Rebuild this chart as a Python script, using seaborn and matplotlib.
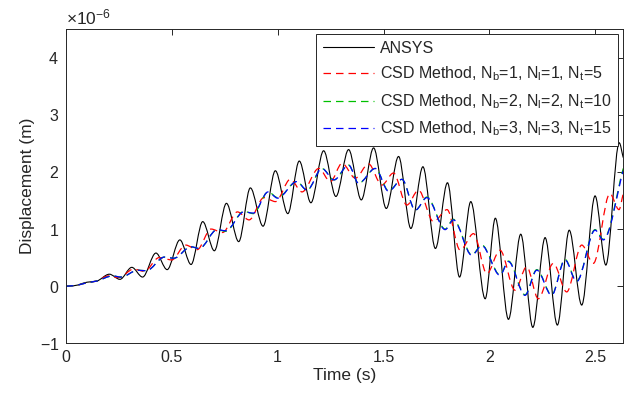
import numpy as np
import pandas as pd
import matplotlib
matplotlib.use("Agg")
import matplotlib.pyplot as plt
from matplotlib.path import Path
from matplotlib.patches import PathPatch
import seaborn as sns

# ---- data (displacement in units of 1e-6 m; local extrema) ----
ansys_t = [0.0, 0.04, 0.10, 0.145, 0.205, 0.255, 0.311, 0.362, 0.425, 0.478, 0.538, 0.591,
           0.646, 0.701, 0.758, 0.816, 0.871, 0.931, 0.989, 1.048, 1.102, 1.157, 1.217,
           1.275, 1.335, 1.395, 1.453, 1.513, 1.571, 1.629, 1.686, 1.745, 1.802, 1.859,
           1.912, 1.980, 2.028, 2.090, 2.148, 2.205, 2.263, 2.321, 2.377, 2.436, 2.499,
           2.550, 2.613, 2.632]
ansys_v = [0.0, 0.01, 0.07, 0.09, 0.21, 0.12, 0.33, 0.16, 0.58, 0.29, 0.81, 0.38,
           1.13, 0.62, 1.45, 0.78, 1.72, 1.05, 2.02, 1.27, 2.19, 1.46, 2.37,
           1.57, 2.39, 1.51, 2.42, 1.36, 2.27, 1.01, 2.09, 0.66, 1.81, 0.16,
           1.48, -0.22, 1.19, -0.58, 0.91, -0.72, 0.85, -0.68, 0.98, -0.33, 1.58,
           0.37, 2.51, 2.25]

csd1_t = [0.0, 0.04, 0.10, 0.145, 0.20, 0.25, 0.32, 0.37, 0.44, 0.50, 0.565, 0.62,
          0.685, 0.74, 0.81, 0.865, 0.935, 0.99, 1.06, 1.115, 1.194, 1.249, 1.304,
          1.367, 1.429, 1.492, 1.547, 1.610, 1.665, 1.736, 1.800, 1.862, 1.925, 1.988,
          2.050, 2.121, 2.176, 2.231, 2.302, 2.365, 2.436, 2.491, 2.569, 2.612, 2.632]
csd1_v = [0.0, 0.01, 0.06, 0.09, 0.18, 0.15, 0.30, 0.26, 0.50, 0.46, 0.72, 0.64,
          1.00, 0.94, 1.30, 1.16, 1.55, 1.48, 1.87, 1.65, 2.06, 1.83, 2.15,
          1.89, 2.14, 1.77, 1.98, 1.42, 1.68, 1.13, 1.34, 0.63, 0.92, 0.22,
          0.63, -0.07, 0.34, -0.22, 0.40, -0.10, 0.72, 0.40, 1.62, 1.34, 1.62]

csd2_t = [0.0, 0.04, 0.10, 0.145, 0.22, 0.26, 0.34, 0.38, 0.465, 0.51, 0.59, 0.63,
          0.714, 0.755, 0.84, 0.885, 0.955, 1.00, 1.09, 1.139, 1.209, 1.266, 1.335,
          1.382, 1.461, 1.524, 1.587, 1.650, 1.705, 1.791, 1.830, 1.917, 1.964, 2.050,
          2.090, 2.168, 2.224, 2.294, 2.357, 2.412, 2.499, 2.538, 2.632]
csd2_v = [0.0, 0.01, 0.06, 0.09, 0.18, 0.16, 0.28, 0.27, 0.51, 0.49, 0.69, 0.66,
          0.99, 0.96, 1.31, 1.27, 1.65, 1.55, 1.83, 1.68, 2.06, 1.86, 2.12,
          1.80, 2.06, 1.67, 1.87, 1.33, 1.56, 1.00, 1.17, 0.55, 0.72, 0.20,
          0.44, -0.15, 0.29, -0.15, 0.47, 0.09, 0.99, 0.82, 2.06]

csd3_t = [0.0, 0.04, 0.10, 0.145, 0.22, 0.26, 0.34, 0.38, 0.465, 0.51, 0.59, 0.63,
          0.714, 0.755, 0.84, 0.885, 0.955, 1.00, 1.09, 1.139, 1.209, 1.266, 1.335,
          1.382, 1.461, 1.524, 1.587, 1.650, 1.705, 1.791, 1.830, 1.917, 1.964, 2.050,
          2.090, 2.168, 2.224, 2.294, 2.357, 2.412, 2.499, 2.538, 2.632]
csd3_v = [0.0, 0.01, 0.06, 0.09, 0.18, 0.16, 0.28, 0.27, 0.51, 0.49, 0.69, 0.66,
          0.99, 0.97, 1.30, 1.28, 1.65, 1.54, 1.83, 1.68, 2.06, 1.86, 2.12,
          1.80, 2.06, 1.66, 1.87, 1.33, 1.55, 0.99, 1.16, 0.54, 0.71, 0.19,
          0.43, -0.16, 0.28, -0.16, 0.46, 0.08, 0.98, 0.81, 2.02]

labels = ["ANSYS",
          r"CSD Method, N$_\mathrm{b}$=1, N$_\mathrm{l}$=1, N$_\mathrm{t}$=5",
          r"CSD Method, N$_\mathrm{b}$=2, N$_\mathrm{l}$=2, N$_\mathrm{t}$=10",
          r"CSD Method, N$_\mathrm{b}$=3, N$_\mathrm{l}$=3, N$_\mathrm{t}$=15"]
x_ticks = [0, 0.5, 1, 1.5, 2, 2.5]
y_ticks = [-1, 0, 1, 2, 3, 4]
scale = 1e-6


def smooth_path(x, y):
    """Monotone cubic (PCHIP-style) Bezier path through the given points."""
    x = np.asarray(x, float)
    y = np.asarray(y, float)
    h = np.diff(x)
    d = np.diff(y) / h
    m = np.zeros_like(y)
    m[0], m[-1] = d[0], d[-1]
    for k in range(1, len(x) - 1):
        if d[k - 1] * d[k] > 0:
            w1 = 2 * h[k] + h[k - 1]
            w2 = h[k] + 2 * h[k - 1]
            m[k] = (w1 + w2) / (w1 / d[k - 1] + w2 / d[k])
    verts = [(x[0], y[0])]
    codes = [Path.MOVETO]
    for k in range(len(x) - 1):
        verts += [(x[k] + h[k] / 3, y[k] + m[k] * h[k] / 3),
                  (x[k + 1] - h[k] / 3, y[k + 1] - m[k + 1] * h[k] / 3),
                  (x[k + 1], y[k + 1])]
        codes += [Path.CURVE4] * 3
    return Path(verts, codes)


# ---- style ----
sns.set_theme(style="white")
plt.rcParams["font.family"] = ["Liberation Sans", "DejaVu Sans"]
plt.rcParams["mathtext.fontset"] = "custom"
plt.rcParams["mathtext.rm"] = "Liberation Sans"
plt.rcParams["mathtext.it"] = "Liberation Sans:italic"
plt.rcParams["axes.formatter.use_mathtext"] = True
plt.rcParams["axes.unicode_minus"] = False

axc = "#262626"
fig = plt.figure(figsize=(6.34, 4.03), dpi=100)
ax = fig.add_axes([0.104, 0.148, 0.879, 0.780])

dash = (0, (6, 4))
series = [(ansys_t, ansys_v, "black", "-", 0.8),
          (csd1_t, csd1_v, "#ff0000", dash, 0.9),
          (csd2_t, csd2_v, "#00c000", dash, 0.9),
          (csd3_t, csd3_v, "#0000ff", dash, 0.9)]
for (t, v, c, ls, lw), lab in zip(series, labels):
    df = pd.DataFrame({"t": t, "v": np.array(v) * scale})
    sns.lineplot(data=df, x="t", y="v", ax=ax, color=c, linestyle=ls,
                 linewidth=lw, label=lab, estimator=None, sort=False)

ax.set_xlim(0, 2.632)
ax.set_ylim(-1 * scale, 4.5 * scale)
ax.set_xticks(x_ticks)
ax.set_xticklabels([f"{x:g}" for x in x_ticks])
ax.set_yticks([y * scale for y in y_ticks])
ax.ticklabel_format(axis="y", style="sci", scilimits=(0, 0), useMathText=True)

ax.set_xlabel("Time (s)", fontsize=12.5, color=axc, labelpad=2)
ax.set_ylabel("Displacement (m)", fontsize=12.5, color=axc, labelpad=3)
ax.tick_params(direction="in", length=4.5, width=0.7, colors=axc, labelsize=11.5,
               top=True, right=True, pad=5)
ax.yaxis.get_offset_text().set_fontsize(12.5)
ax.yaxis.get_offset_text().set_color(axc)
for s in ax.spines.values():
    s.set_visible(True)
    s.set_color(axc)
    s.set_linewidth(0.7)

leg = ax.legend(loc="upper right", fontsize=11.5, frameon=True, fancybox=False,
                edgecolor=axc, framealpha=1, handlelength=3.2, handletextpad=0.35,
                labelspacing=0.55, borderaxespad=0.3, borderpad=0.45)
leg.get_frame().set_linewidth(0.7)
for txt in leg.get_texts():
    txt.set_color(axc)

# render the seaborn lines as smooth curves through the same points
for line in list(ax.lines):
    xd, yd = line.get_xdata(), line.get_ydata()
    patch = PathPatch(smooth_path(xd, yd), fill=False, edgecolor=line.get_color(),
                      linestyle=line.get_linestyle() if line.get_linestyle() == "-" else dash,
                      linewidth=line.get_linewidth(), zorder=line.get_zorder())
    ax.add_patch(patch)
    line.set_visible(False)
leg.set_zorder(10)

ax.set_xlim(0, 2.632)
ax.set_ylim(-1 * scale, 4.5 * scale)
fig.savefig("out.png", dpi=100)
